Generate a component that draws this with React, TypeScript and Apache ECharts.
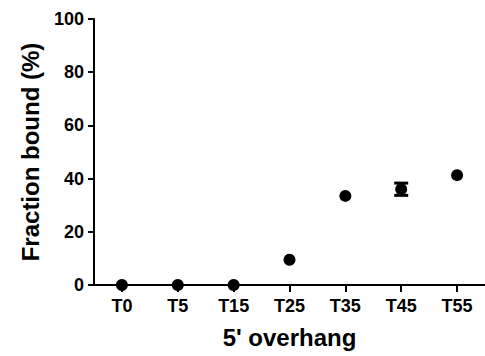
import React, { useEffect, useRef } from "react";
import * as echarts from "echarts";

const categories = ["T0", "T5", "T15", "T25", "T35", "T45", "T55"];
const meanValues = [0, 0, 0, 9.5, 33.5, 36.0, 41.3];
const errorValues = [0, 0, 0, 0, 0, 2.3, 0];
const yTicks = [0, 20, 40, 60, 80, 100];

const FONT = "'Liberation Sans', Arial, sans-serif";
const INK = "#000000";

export default function App() {
  const ref = useRef<HTMLDivElement>(null);
  useEffect(() => {
    if (!ref.current) return;
    const chart = echarts.init(ref.current, null, { renderer: "svg" });
    const errData = categories
      .map((c, i) => [i, meanValues[i] - errorValues[i], meanValues[i] + errorValues[i]])
      .filter((d, i) => errorValues[i] > 0);
    chart.setOption({
      animation: false,
      backgroundColor: "#ffffff",
      grid: { left: 94, top: 19, bottom: 71, right: -8, containLabel: false },
      xAxis: {
        type: "category",
        data: categories,
        boundaryGap: true,
        name: "5' overhang",
        nameLocation: "middle",
        nameGap: 40,
        nameTextStyle: { fontFamily: FONT, fontWeight: "bold", fontSize: 24, color: INK },
        axisLine: { show: true, lineStyle: { color: INK, width: 2, opacity: 1 } },
        axisTick: { show: true, interval: 0, alignWithLabel: true, length: 7, lineStyle: { color: INK, width: 2 } },
        axisLabel: { fontFamily: FONT, fontWeight: "bold", fontSize: 18, color: INK, margin: 12 },
        splitLine: { show: false },
      },
      yAxis: {
        type: "value",
        min: yTicks[0],
        max: yTicks[yTicks.length - 1],
        interval: 20,
        name: "Fraction bound (%)",
        nameLocation: "middle",
        nameRotate: 90,
        nameGap: 52,
        nameTextStyle: { fontFamily: FONT, fontWeight: "bold", fontSize: 24, color: INK },
        axisLine: { show: true, lineStyle: { color: INK, width: 2, opacity: 1 } },
        axisTick: { show: true, length: 6, lineStyle: { color: INK, width: 2 } },
        axisLabel: { fontFamily: FONT, fontWeight: "bold", fontSize: 18, color: INK, margin: 10 },
        splitLine: { show: false },
      },
      series: [
        {
          type: "custom",
          clip: false,
          data: errData,
          renderItem: (params: any, api: any) => {
            const x = api.value(0);
            const lo = api.coord([x, api.value(1)]);
            const hi = api.coord([x, api.value(2)]);
            const hw = 7;
            const style = { stroke: INK, lineWidth: 3 };
            return {
              type: "group",
              children: [
                { type: "line", shape: { x1: lo[0], y1: lo[1], x2: hi[0], y2: hi[1] }, style },
                { type: "line", shape: { x1: lo[0] - hw, y1: lo[1], x2: lo[0] + hw, y2: lo[1] }, style },
                { type: "line", shape: { x1: hi[0] - hw, y1: hi[1], x2: hi[0] + hw, y2: hi[1] }, style },
              ],
            };
          },
          z: 3,
        },
        {
          type: "scatter",
          data: meanValues,
          symbol: "circle",
          symbolSize: 12,
          clip: false,
          itemStyle: { color: INK, opacity: 1 },
          z: 4,
        },
      ],
    });
    return () => chart.dispose();
  }, []);
  return (
    <div
      ref={ref}
      style={{ position: "fixed", left: 0, top: 0, width: 485, height: 356, background: "#fff" }}
    />
  );
}
